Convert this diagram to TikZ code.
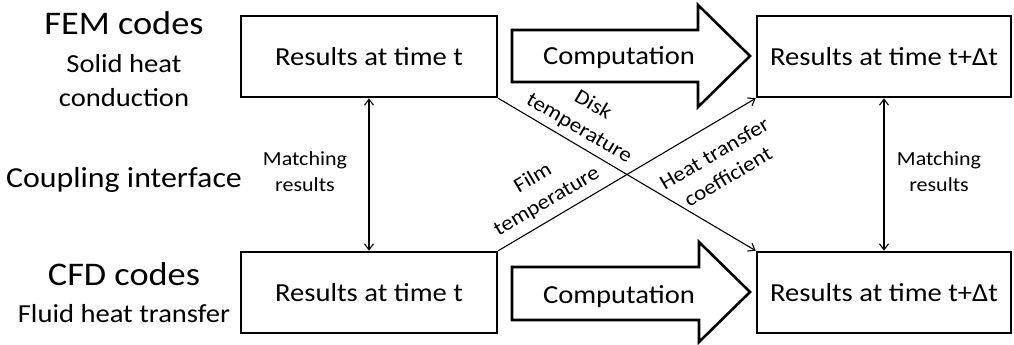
\documentclass[tikz,border=0pt]{standalone}
\usepackage{fontspec}
\setmainfont{Carlito}[FakeStretch=1.1]
\usetikzlibrary{arrows.meta}
\newcommand\szHuge{\fontsize{33}{38}\selectfont}
\newcommand\szBig{\fontsize{29}{34}\selectfont}
\newcommand\szMid{\fontsize{26}{30}\selectfont}
\newcommand\szSmall{\fontsize{20}{26}\selectfont}
\newcommand\szRot{\fontsize{21}{27}\selectfont}
\tikzset{
  resbox/.style={draw=black, line width=2.6pt, minimum height=81pt, inner sep=0pt, font=\szMid},
  bigarrow/.style={draw=black, line width=2.6pt, fill=white, line join=miter},
  conn/.style={line width=1.1pt, -{Straight Barb[length=6pt,width=9pt]}},
  dconn/.style={line width=1.1pt, {Straight Barb[length=6pt,width=9pt]}-{Straight Barb[length=6pt,width=9pt]}},
  sidelbl/.style={anchor=base, inner sep=0pt},
  lbl/.style={inner sep=0pt, align=center, font=\szSmall},
  rotlbl/.style={inner sep=0pt, align=center, font=\szRot}
}
\begin{document}
\begin{tikzpicture}[x=1pt,y=-1pt]
\useasboundingbox (0,0) rectangle (1014,345);
% boxes
\node[resbox, minimum width=256pt] (b1) at (369,56.5) {Results at time t};
\node[resbox, minimum width=256pt] (b3) at (369,292.5) {Results at time t};
\node[resbox, minimum width=254pt] (b2) at (884,56.5) {Results at time t+Δt};
\node[resbox, minimum width=254pt] (b4) at (884,292.5) {Results at time t+Δt};
% computation arrows
\draw[bigarrow] (512,30) -- (698,30) -- (698,5) -- (750,56) -- (698,107) -- (698,82) -- (512,82) -- cycle;
\node[sidelbl, font=\szMid] (c1) at (619,65) {Computation};
\draw[bigarrow] (512,267) -- (699,267) -- (699,242) -- (750,292) -- (699,342) -- (699,320) -- (512,320) -- cycle;
\node[sidelbl, font=\szMid] (c2) at (619,303) {Computation};
% side labels
\node[sidelbl, font=\szHuge] (fem) at (124,35) {FEM codes};
\node[sidelbl, font=\szMid] (fem1) at (124,72) {Solid heat};
\node[sidelbl, font=\szMid] (fem2) at (124,106) {conduction};
\node[sidelbl, font=\szBig] (ci) at (124,187) {Coupling interface};
\node[sidelbl, font=\szHuge] (cfd) at (124,285) {CFD codes};
\node[sidelbl, font=\szMid] (cfd1) at (124,322) {Fluid heat transfer};
% connectors
\draw[dconn] (b1.south) -- (b3.north);
\draw[dconn] (b2.south) -- (b4.north);
\draw[conn] (b1.south east) -- (b4.north west);
\draw[conn] (b3.north east) -- (b2.south west);
% connector labels
\node[lbl] (m1) at (305,172) {Matching\\results};
\node[lbl] (m2) at (939,172) {Matching\\results};
\node[rotlbl, rotate=-30.6] (disk) at (586,117) {Disk\\temperature};
\node[rotlbl, rotate=30.6] (film) at (540,190) {Film\\temperature};
\node[rotlbl, rotate=30.6] (htc) at (721,165) {Heat transfer\\coefficient};
\end{tikzpicture}
\end{document}
